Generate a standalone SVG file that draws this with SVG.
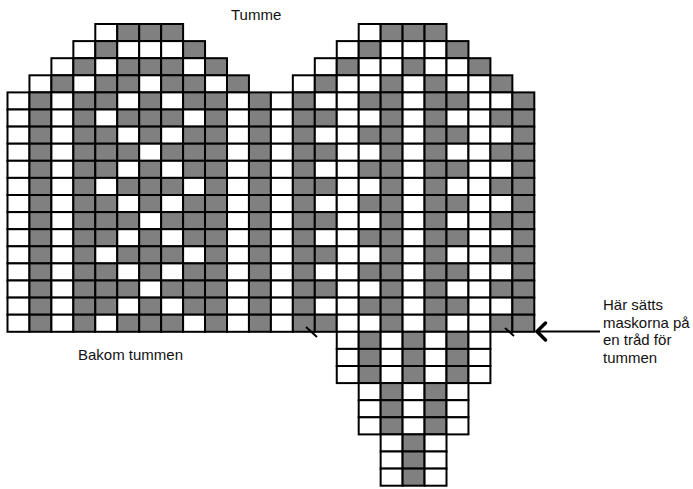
<svg xmlns="http://www.w3.org/2000/svg" xmlns:xlink="http://www.w3.org/1999/xlink" width="693" height="489" viewBox="0 0 693 489">
<style>
.w,.g{width:21.95px;height:17.1px;stroke:#000;stroke-width:2}
.w{fill:#fff}
.g{fill:#808080}
.t{font-family:"Liberation Sans",Arial,sans-serif;font-size:15px;fill:#111}
.k{stroke:#000;stroke-width:2;fill:none}
</style>
<defs>
<g id="LA"><rect x="7.5" class="w"/><rect x="29.45" class="g"/><rect x="51.4" class="w"/><rect x="73.35" class="g"/><rect x="95.3" class="w"/><rect x="117.25" class="g"/><rect x="139.2" class="g"/><rect x="161.15" class="g"/><rect x="183.1" class="w"/><rect x="205.05" class="g"/><rect x="227" class="w"/><rect x="248.95" class="g"/></g>
<g id="LB"><rect x="7.5" class="w"/><rect x="29.45" class="g"/><rect x="51.4" class="w"/><rect x="73.35" class="g"/><rect x="95.3" class="g"/><rect x="117.25" class="w"/><rect x="139.2" class="g"/><rect x="161.15" class="w"/><rect x="183.1" class="g"/><rect x="205.05" class="g"/><rect x="227" class="w"/><rect x="248.95" class="g"/></g>
<g id="LC"><rect x="7.5" class="w"/><rect x="29.45" class="g"/><rect x="51.4" class="w"/><rect x="73.35" class="g"/><rect x="95.3" class="g"/><rect x="117.25" class="g"/><rect x="139.2" class="w"/><rect x="161.15" class="g"/><rect x="183.1" class="g"/><rect x="205.05" class="g"/><rect x="227" class="w"/><rect x="248.95" class="g"/></g>
<g id="RE"><rect x="270.9" class="w"/><rect x="292.85" class="g"/><rect x="314.8" class="w"/><rect x="336.75" class="w"/><rect x="358.7" class="g"/><rect x="380.65" class="g"/><rect x="402.6" class="w"/><rect x="424.55" class="g"/><rect x="446.5" class="g"/><rect x="468.45" class="w"/><rect x="490.4" class="w"/><rect x="512.35" class="g"/></g>
<g id="RO"><rect x="270.9" class="w"/><rect x="292.85" class="g"/><rect x="314.8" class="g"/><rect x="336.75" class="w"/><rect x="358.7" class="w"/><rect x="380.65" class="g"/><rect x="402.6" class="w"/><rect x="424.55" class="g"/><rect x="446.5" class="w"/><rect x="468.45" class="w"/><rect x="490.4" class="g"/><rect x="512.35" class="g"/></g>
<g id="X7"><rect x="336.75" class="w"/><rect x="358.7" class="g"/><rect x="380.65" class="w"/><rect x="402.6" class="g"/><rect x="424.55" class="w"/><rect x="446.5" class="g"/><rect x="468.45" class="w"/></g>
<g id="X5"><rect x="358.7" class="w"/><rect x="380.65" class="g"/><rect x="402.6" class="w"/><rect x="424.55" class="g"/><rect x="446.5" class="w"/></g>
<g id="X3"><rect x="380.65" class="w"/><rect x="402.6" class="g"/><rect x="424.55" class="w"/></g>
</defs>
<rect width="693" height="489" fill="#fff"/>
<g id="chart">
<g id="row0" transform="translate(0,24)"><rect x="95.3" class="w"/><rect x="117.25" class="g"/><rect x="139.2" class="g"/><rect x="161.15" class="g"/><rect x="358.7" class="w"/><rect x="380.65" class="g"/><rect x="402.6" class="g"/><rect x="424.55" class="g"/></g>
<g id="row1" transform="translate(0,41.1)"><rect x="73.35" class="w"/><rect x="95.3" class="g"/><rect x="117.25" class="w"/><rect x="139.2" class="w"/><rect x="161.15" class="w"/><rect x="183.1" class="g"/><rect x="336.75" class="w"/><rect x="358.7" class="g"/><rect x="380.65" class="w"/><rect x="402.6" class="w"/><rect x="424.55" class="w"/><rect x="446.5" class="g"/></g>
<g id="row2" transform="translate(0,58.2)"><rect x="51.4" class="w"/><rect x="73.35" class="g"/><rect x="95.3" class="w"/><rect x="117.25" class="g"/><rect x="139.2" class="g"/><rect x="161.15" class="g"/><rect x="183.1" class="w"/><rect x="205.05" class="g"/><rect x="314.8" class="w"/><rect x="336.75" class="g"/><rect x="358.7" class="w"/><rect x="380.65" class="w"/><rect x="402.6" class="g"/><rect x="424.55" class="w"/><rect x="446.5" class="w"/><rect x="468.45" class="g"/></g>
<g id="row3" transform="translate(0,75.3)"><rect x="29.45" class="w"/><rect x="51.4" class="g"/><rect x="73.35" class="w"/><rect x="95.3" class="g"/><rect x="117.25" class="g"/><rect x="139.2" class="w"/><rect x="161.15" class="g"/><rect x="183.1" class="g"/><rect x="205.05" class="w"/><rect x="227" class="g"/><rect x="292.85" class="w"/><rect x="314.8" class="g"/><rect x="336.75" class="w"/><rect x="358.7" class="w"/><rect x="380.65" class="g"/><rect x="402.6" class="w"/><rect x="424.55" class="g"/><rect x="446.5" class="w"/><rect x="468.45" class="w"/><rect x="490.4" class="g"/></g>
<g id="rows4to17">
<use xlink:href="#LB" y="92.4"/><use xlink:href="#RE" y="92.4"/>
<use xlink:href="#LA" y="109.5"/><use xlink:href="#RO" y="109.5"/>
<use xlink:href="#LB" y="126.6"/><use xlink:href="#RE" y="126.6"/>
<use xlink:href="#LC" y="143.7"/><use xlink:href="#RO" y="143.7"/>
<use xlink:href="#LB" y="160.8"/><use xlink:href="#RE" y="160.8"/>
<use xlink:href="#LA" y="177.9"/><use xlink:href="#RO" y="177.9"/>
<use xlink:href="#LB" y="195"/><use xlink:href="#RE" y="195"/>
<use xlink:href="#LC" y="212.1"/><use xlink:href="#RO" y="212.1"/>
<use xlink:href="#LB" y="229.2"/><use xlink:href="#RE" y="229.2"/>
<use xlink:href="#LA" y="246.3"/><use xlink:href="#RO" y="246.3"/>
<use xlink:href="#LB" y="263.4"/><use xlink:href="#RE" y="263.4"/>
<use xlink:href="#LC" y="280.5"/><use xlink:href="#RO" y="280.5"/>
<use xlink:href="#LB" y="297.6"/><use xlink:href="#RE" y="297.6"/>
<use xlink:href="#LA" y="314.7"/><use xlink:href="#RO" y="314.7"/>
</g>
<g id="lower">
<use xlink:href="#X7" y="331.8"/><use xlink:href="#X7" y="348.9"/><use xlink:href="#X7" y="366"/>
<use xlink:href="#X5" y="383.1"/><use xlink:href="#X5" y="400.2"/><use xlink:href="#X5" y="417.3"/>
<use xlink:href="#X3" y="434.4"/><use xlink:href="#X3" y="451.5"/><use xlink:href="#X3" y="468.6"/>
</g>
</g>
<g id="marks">
<line class="k" x1="306" y1="327" x2="317" y2="337"/>
<line class="k" x1="505" y1="328" x2="514" y2="336"/>
<line class="k" x1="537" y1="331.5" x2="600" y2="331.5"/>
<polyline points="545.5,323 537,331.5 545.5,340" stroke="#000" stroke-width="3.5" fill="none" stroke-linecap="round" stroke-linejoin="miter"/>
</g>
<g id="labels">
<text class="t" x="231" y="20">Tumme</text>
<text class="t" x="78" y="360">Bakom tummen</text>
<text class="t" x="603" y="310">Här sätts</text>
<text class="t" x="603" y="327.5">maskorna på</text>
<text class="t" x="603" y="345">en tråd för</text>
<text class="t" x="603" y="362.5">tummen</text>
</g>
</svg>
